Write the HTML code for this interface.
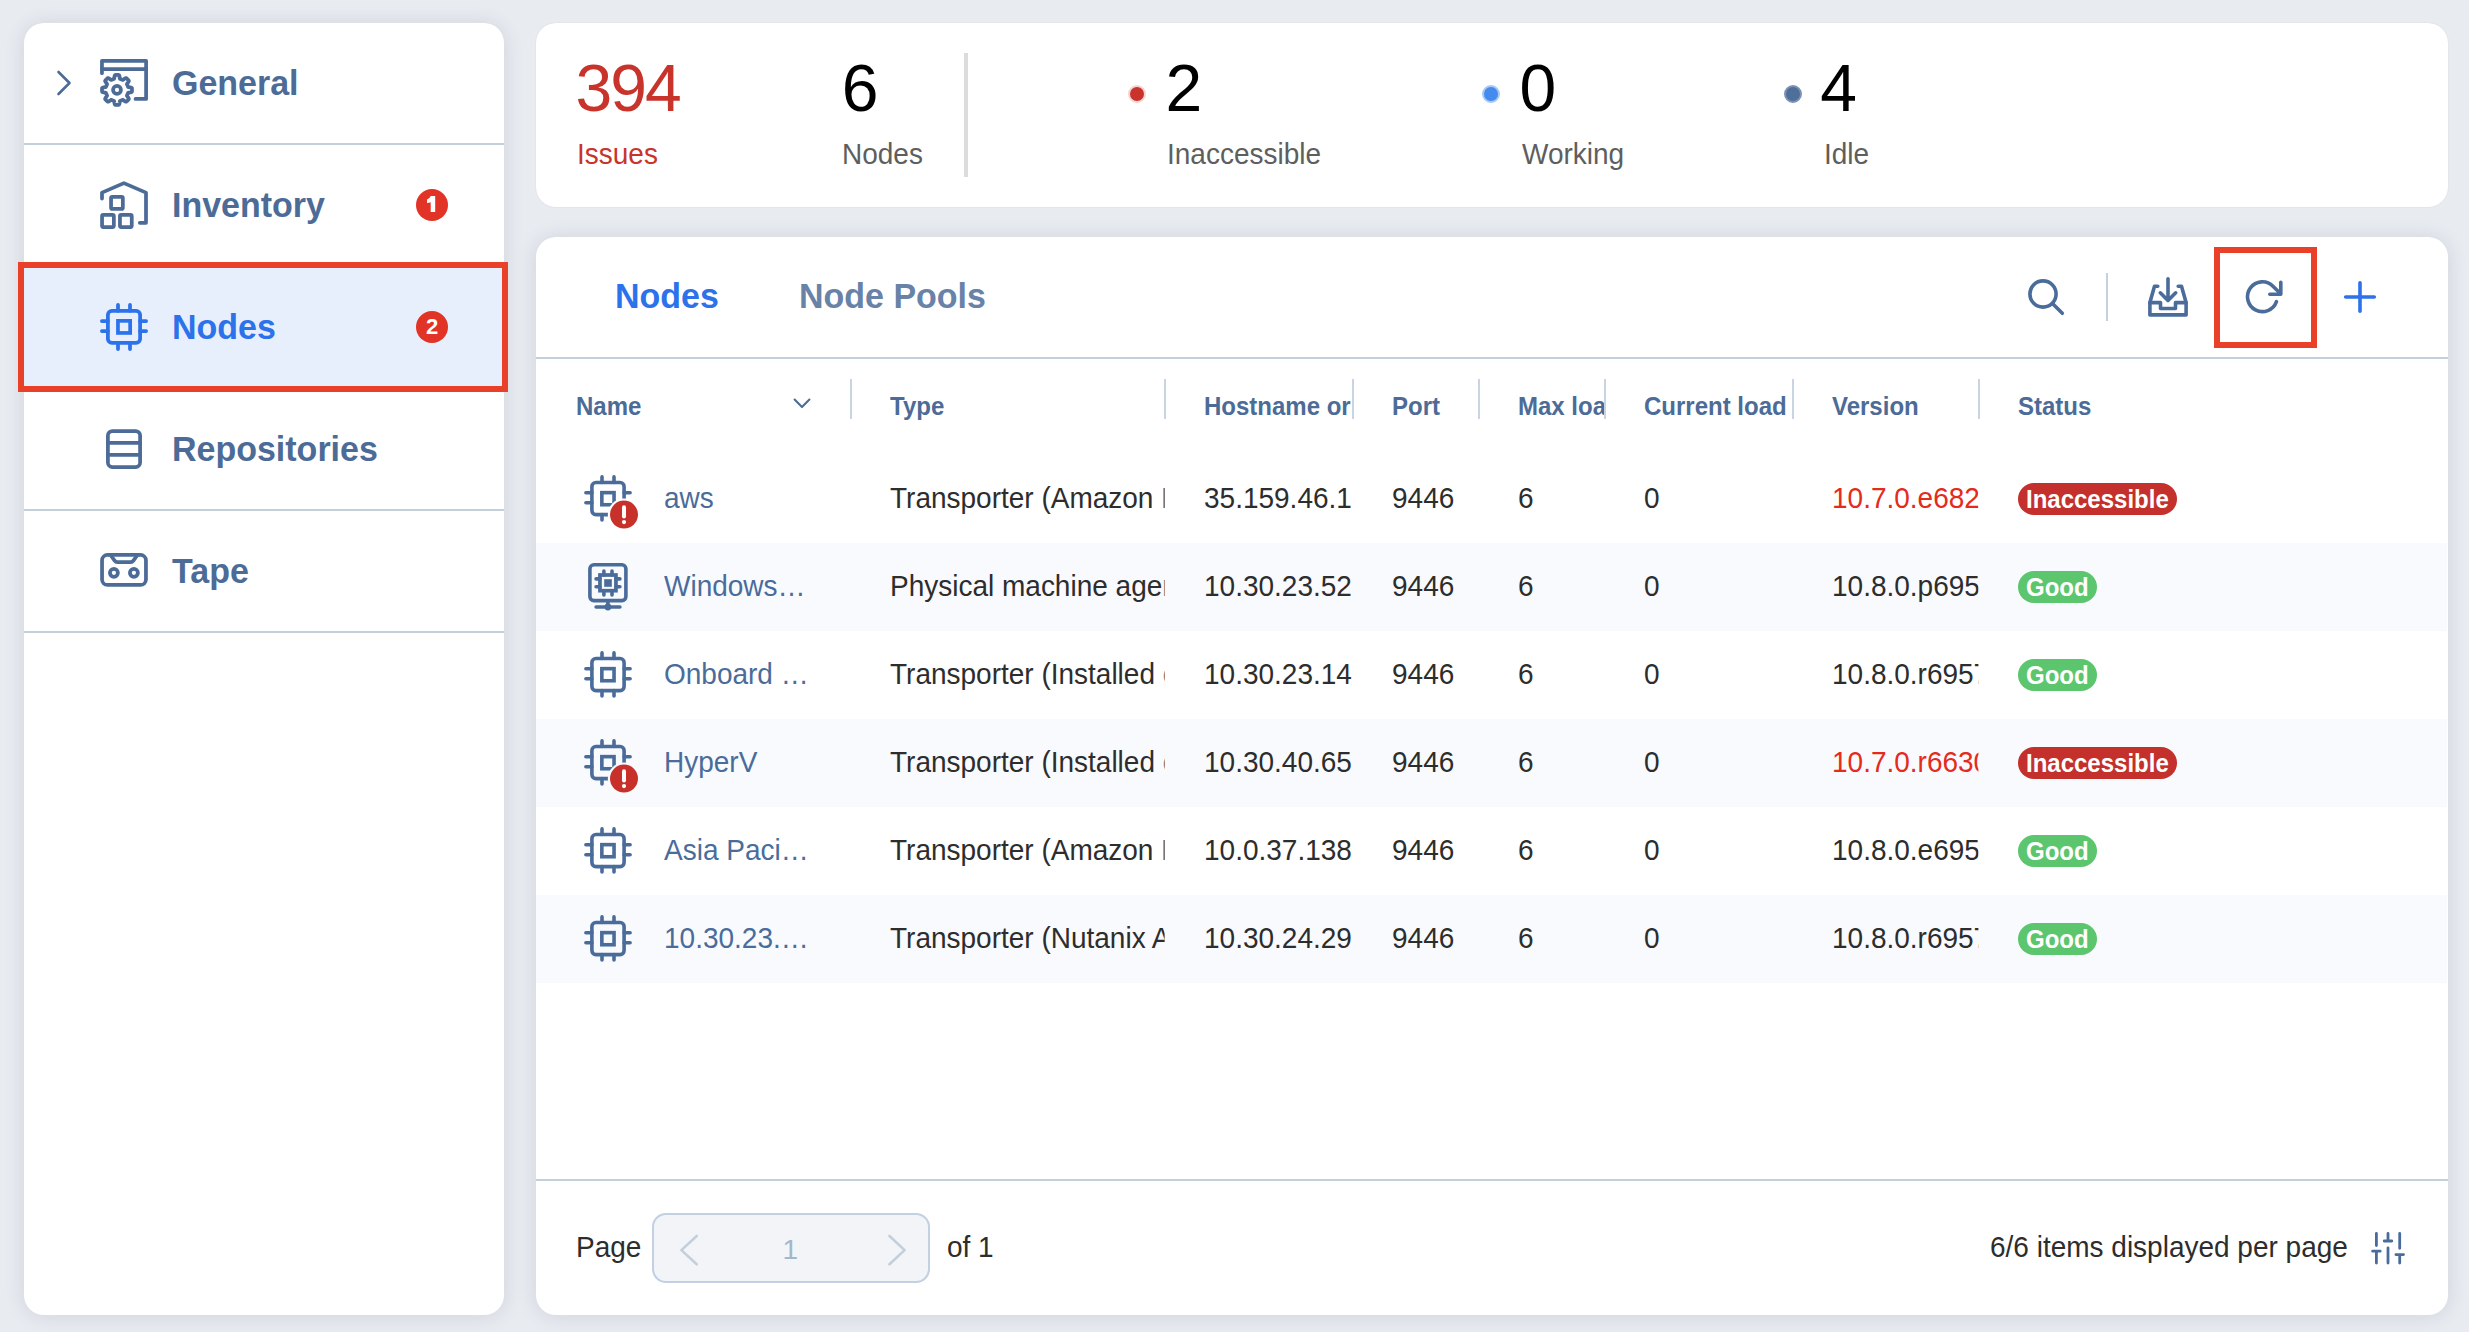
<!DOCTYPE html><html><head><meta charset="utf-8"><title>Nodes</title><style>
*{margin:0;padding:0;box-sizing:border-box}
html,body{width:2469px;height:1332px;overflow:hidden;background:#e8ebf0;font-family:"Liberation Sans",sans-serif}
.panel{position:absolute;background:#fff;border-radius:20px;box-shadow:0 1px 20px rgba(30,40,80,0.12)}
.panel.flat{box-shadow:0 0 1.5px rgba(30,40,80,0.12)}
.r{position:absolute}
.t{position:absolute;white-space:nowrap;transform-origin:0 0}
.ic{position:absolute;overflow:visible}
.badge{position:absolute;width:32px;height:32px;border-radius:50%;background:#e13427;color:#fff;font-weight:700;font-size:22px;line-height:32px;text-align:center}
.ell{position:absolute;white-space:nowrap;overflow:hidden;text-overflow:ellipsis;font-size:28px;transform-origin:0 0}
.clip{position:absolute;white-space:nowrap;overflow:hidden;font-size:28px;transform-origin:0 0}
.pill{position:absolute;height:32px;padding:0 8px;border-radius:16px;color:#fff;font-weight:700;font-size:25.08px;line-height:32px;white-space:nowrap}
.pill span{display:inline-block;transform:scaleX(0.9569);transform-origin:0 0}
</style></head><body><div class="panel" style="left:24px;top:23px;width:480px;height:1292px"></div><div class="panel flat" style="left:536px;top:23px;width:1912px;height:184px"></div><div class="panel" style="left:536px;top:237px;width:1912px;height:1078px"></div><div class="r" style="left:24px;top:143px;width:480px;height:2px;background:#c4cfdc"></div><div class="r" style="left:24px;top:265px;width:480px;height:2px;background:#c4cfdc"></div><div class="r" style="left:24px;top:387px;width:480px;height:2px;background:#c4cfdc"></div><div class="r" style="left:24px;top:509px;width:480px;height:2px;background:#c4cfdc"></div><div class="r" style="left:24px;top:631px;width:480px;height:2px;background:#c4cfdc"></div><div class="r" style="left:24px;top:267px;width:480px;height:120px;background:#e6effb"></div><svg class="ic" style="left:50px;top:65px" width="28" height="36" viewBox="50 65 28 36" ><path d="M58.5 72 L69.5 83 L58.5 94" fill="none" stroke="#4c6c97" stroke-width="2.6" stroke-linecap="round" stroke-linejoin="round"/></svg><svg class="ic" style="left:94px;top:52px" width="60" height="60" viewBox="94 52 60 60" ><path d="M101.95 73.2 V60.8 H146.1 V98.9 H135.55" fill="none" stroke="#4c6c97" stroke-width="3.75" stroke-linecap="round" stroke-linejoin="round"/><path d="M101.95 69.1 H146.1" fill="none" stroke="#4c6c97" stroke-width="3.75" stroke-linecap="round" stroke-linejoin="round"/><path d="M132.00 89.90 L132.00 90.03 L132.00 90.16 L131.99 90.29 L131.99 90.42 L131.99 90.55 L131.98 90.69 L131.97 90.82 L131.96 90.95 L131.95 91.08 L131.94 91.21 L131.93 91.34 L131.92 91.47 L131.90 91.60 L131.88 91.73 L131.80 91.85 L131.68 91.96 L131.51 92.07 L131.29 92.16 L131.03 92.25 L130.75 92.32 L130.44 92.39 L130.11 92.45 L129.78 92.50 L129.46 92.55 L129.15 92.59 L128.86 92.64 L128.60 92.69 L128.38 92.74 L128.21 92.80 L128.08 92.87 L128.00 92.95 L127.96 93.04 L127.93 93.14 L127.90 93.23 L127.87 93.33 L127.84 93.42 L127.81 93.52 L127.78 93.61 L127.75 93.71 L127.71 93.80 L127.68 93.89 L127.64 93.99 L127.61 94.08 L127.57 94.17 L127.53 94.26 L127.49 94.35 L127.45 94.45 L127.41 94.54 L127.37 94.63 L127.33 94.72 L127.29 94.81 L127.25 94.90 L127.20 94.99 L127.16 95.08 L127.11 95.16 L127.07 95.25 L127.02 95.34 L126.97 95.43 L126.93 95.52 L126.93 95.64 L126.98 95.78 L127.06 95.94 L127.17 96.13 L127.32 96.35 L127.49 96.58 L127.68 96.84 L127.88 97.10 L128.07 97.37 L128.26 97.64 L128.44 97.91 L128.58 98.16 L128.70 98.40 L128.79 98.62 L128.84 98.82 L128.84 98.99 L128.81 99.13 L128.74 99.24 L128.66 99.34 L128.57 99.44 L128.49 99.54 L128.41 99.64 L128.32 99.74 L128.23 99.84 L128.15 99.94 L128.06 100.03 L127.97 100.13 L127.88 100.23 L127.79 100.32 L127.70 100.41 L127.61 100.51 L127.51 100.60 L127.42 100.69 L127.33 100.78 L127.23 100.87 L127.13 100.96 L127.04 101.05 L126.94 101.13 L126.84 101.22 L126.74 101.31 L126.64 101.39 L126.54 101.47 L126.44 101.56 L126.34 101.64 L126.23 101.71 L126.09 101.74 L125.92 101.74 L125.72 101.69 L125.50 101.60 L125.26 101.48 L125.01 101.34 L124.74 101.16 L124.47 100.97 L124.20 100.78 L123.94 100.58 L123.68 100.39 L123.45 100.22 L123.23 100.07 L123.04 99.96 L122.88 99.88 L122.74 99.83 L122.62 99.83 L122.53 99.87 L122.44 99.92 L122.35 99.97 L122.26 100.01 L122.18 100.06 L122.09 100.10 L122.00 100.15 L121.91 100.19 L121.82 100.23 L121.73 100.27 L121.64 100.31 L121.55 100.35 L121.45 100.39 L121.36 100.43 L121.27 100.47 L121.18 100.51 L121.09 100.54 L120.99 100.58 L120.90 100.61 L120.81 100.65 L120.71 100.68 L120.62 100.71 L120.52 100.74 L120.43 100.77 L120.33 100.80 L120.24 100.83 L120.14 100.86 L120.05 100.90 L119.97 100.98 L119.90 101.11 L119.84 101.28 L119.79 101.50 L119.74 101.76 L119.69 102.05 L119.65 102.36 L119.60 102.68 L119.55 103.01 L119.49 103.34 L119.42 103.65 L119.35 103.93 L119.26 104.19 L119.17 104.41 L119.06 104.58 L118.95 104.70 L118.83 104.78 L118.70 104.80 L118.57 104.82 L118.44 104.83 L118.31 104.84 L118.18 104.85 L118.05 104.86 L117.92 104.87 L117.79 104.88 L117.65 104.89 L117.52 104.89 L117.39 104.89 L117.26 104.90 L117.13 104.90 L117.00 104.90 L116.87 104.90 L116.74 104.90 L116.61 104.89 L116.48 104.89 L116.35 104.89 L116.21 104.88 L116.08 104.87 L115.95 104.86 L115.82 104.85 L115.69 104.84 L115.56 104.83 L115.43 104.82 L115.30 104.80 L115.17 104.78 L115.05 104.70 L114.94 104.58 L114.83 104.41 L114.74 104.19 L114.65 103.93 L114.58 103.65 L114.51 103.34 L114.45 103.01 L114.40 102.68 L114.35 102.36 L114.31 102.05 L114.26 101.76 L114.21 101.50 L114.16 101.28 L114.10 101.11 L114.03 100.98 L113.95 100.90 L113.86 100.86 L113.76 100.83 L113.67 100.80 L113.57 100.77 L113.48 100.74 L113.38 100.71 L113.29 100.68 L113.19 100.65 L113.10 100.61 L113.01 100.58 L112.91 100.54 L112.82 100.51 L112.73 100.47 L112.64 100.43 L112.55 100.39 L112.45 100.35 L112.36 100.31 L112.27 100.27 L112.18 100.23 L112.09 100.19 L112.00 100.15 L111.91 100.10 L111.82 100.06 L111.74 100.01 L111.65 99.97 L111.56 99.92 L111.47 99.87 L111.38 99.83 L111.26 99.83 L111.12 99.88 L110.96 99.96 L110.77 100.07 L110.55 100.22 L110.32 100.39 L110.06 100.58 L109.80 100.78 L109.53 100.97 L109.26 101.16 L108.99 101.34 L108.74 101.48 L108.50 101.60 L108.28 101.69 L108.08 101.74 L107.91 101.74 L107.77 101.71 L107.66 101.64 L107.56 101.56 L107.46 101.47 L107.36 101.39 L107.26 101.31 L107.16 101.22 L107.06 101.13 L106.96 101.05 L106.87 100.96 L106.77 100.87 L106.67 100.78 L106.58 100.69 L106.49 100.60 L106.39 100.51 L106.30 100.41 L106.21 100.32 L106.12 100.23 L106.03 100.13 L105.94 100.03 L105.85 99.94 L105.77 99.84 L105.68 99.74 L105.59 99.64 L105.51 99.54 L105.43 99.44 L105.34 99.34 L105.26 99.24 L105.19 99.13 L105.16 98.99 L105.16 98.82 L105.21 98.62 L105.30 98.40 L105.42 98.16 L105.56 97.91 L105.74 97.64 L105.93 97.37 L106.12 97.10 L106.32 96.84 L106.51 96.58 L106.68 96.35 L106.83 96.13 L106.94 95.94 L107.02 95.78 L107.07 95.64 L107.07 95.52 L107.03 95.43 L106.98 95.34 L106.93 95.25 L106.89 95.16 L106.84 95.08 L106.80 94.99 L106.75 94.90 L106.71 94.81 L106.67 94.72 L106.63 94.63 L106.59 94.54 L106.55 94.45 L106.51 94.35 L106.47 94.26 L106.43 94.17 L106.39 94.08 L106.36 93.99 L106.32 93.89 L106.29 93.80 L106.25 93.71 L106.22 93.61 L106.19 93.52 L106.16 93.42 L106.13 93.33 L106.10 93.23 L106.07 93.14 L106.04 93.04 L106.00 92.95 L105.92 92.87 L105.79 92.80 L105.62 92.74 L105.40 92.69 L105.14 92.64 L104.85 92.59 L104.54 92.55 L104.22 92.50 L103.89 92.45 L103.56 92.39 L103.25 92.32 L102.97 92.25 L102.71 92.16 L102.49 92.07 L102.32 91.96 L102.20 91.85 L102.12 91.73 L102.10 91.60 L102.08 91.47 L102.07 91.34 L102.06 91.21 L102.05 91.08 L102.04 90.95 L102.03 90.82 L102.02 90.69 L102.01 90.55 L102.01 90.42 L102.01 90.29 L102.00 90.16 L102.00 90.03 L102.00 89.90 L102.00 89.77 L102.00 89.64 L102.01 89.51 L102.01 89.38 L102.01 89.25 L102.02 89.11 L102.03 88.98 L102.04 88.85 L102.05 88.72 L102.06 88.59 L102.07 88.46 L102.08 88.33 L102.10 88.20 L102.12 88.07 L102.20 87.95 L102.32 87.84 L102.49 87.73 L102.71 87.64 L102.97 87.55 L103.25 87.48 L103.56 87.41 L103.89 87.35 L104.22 87.30 L104.54 87.25 L104.85 87.21 L105.14 87.16 L105.40 87.11 L105.62 87.06 L105.79 87.00 L105.92 86.93 L106.00 86.85 L106.04 86.76 L106.07 86.66 L106.10 86.57 L106.13 86.47 L106.16 86.38 L106.19 86.28 L106.22 86.19 L106.25 86.09 L106.29 86.00 L106.32 85.91 L106.36 85.81 L106.39 85.72 L106.43 85.63 L106.47 85.54 L106.51 85.45 L106.55 85.35 L106.59 85.26 L106.63 85.17 L106.67 85.08 L106.71 84.99 L106.75 84.90 L106.80 84.81 L106.84 84.72 L106.89 84.64 L106.93 84.55 L106.98 84.46 L107.03 84.37 L107.07 84.28 L107.07 84.16 L107.02 84.02 L106.94 83.86 L106.83 83.67 L106.68 83.45 L106.51 83.22 L106.32 82.96 L106.12 82.70 L105.93 82.43 L105.74 82.16 L105.56 81.89 L105.42 81.64 L105.30 81.40 L105.21 81.18 L105.16 80.98 L105.16 80.81 L105.19 80.67 L105.26 80.56 L105.34 80.46 L105.43 80.36 L105.51 80.26 L105.59 80.16 L105.68 80.06 L105.77 79.96 L105.85 79.86 L105.94 79.77 L106.03 79.67 L106.12 79.57 L106.21 79.48 L106.30 79.39 L106.39 79.29 L106.49 79.20 L106.58 79.11 L106.67 79.02 L106.77 78.93 L106.87 78.84 L106.96 78.75 L107.06 78.67 L107.16 78.58 L107.26 78.49 L107.36 78.41 L107.46 78.33 L107.56 78.24 L107.66 78.16 L107.77 78.09 L107.91 78.06 L108.08 78.06 L108.28 78.11 L108.50 78.20 L108.74 78.32 L108.99 78.46 L109.26 78.64 L109.53 78.83 L109.80 79.02 L110.06 79.22 L110.32 79.41 L110.55 79.58 L110.77 79.73 L110.96 79.84 L111.12 79.92 L111.26 79.97 L111.38 79.97 L111.47 79.93 L111.56 79.88 L111.65 79.83 L111.74 79.79 L111.82 79.74 L111.91 79.70 L112.00 79.65 L112.09 79.61 L112.18 79.57 L112.27 79.53 L112.36 79.49 L112.45 79.45 L112.55 79.41 L112.64 79.37 L112.73 79.33 L112.82 79.29 L112.91 79.26 L113.01 79.22 L113.10 79.19 L113.19 79.15 L113.29 79.12 L113.38 79.09 L113.48 79.06 L113.57 79.03 L113.67 79.00 L113.76 78.97 L113.86 78.94 L113.95 78.90 L114.03 78.82 L114.10 78.69 L114.16 78.52 L114.21 78.30 L114.26 78.04 L114.31 77.75 L114.35 77.44 L114.40 77.12 L114.45 76.79 L114.51 76.46 L114.58 76.15 L114.65 75.87 L114.74 75.61 L114.83 75.39 L114.94 75.22 L115.05 75.10 L115.17 75.02 L115.30 75.00 L115.43 74.98 L115.56 74.97 L115.69 74.96 L115.82 74.95 L115.95 74.94 L116.08 74.93 L116.21 74.92 L116.35 74.91 L116.48 74.91 L116.61 74.91 L116.74 74.90 L116.87 74.90 L117.00 74.90 L117.13 74.90 L117.26 74.90 L117.39 74.91 L117.52 74.91 L117.65 74.91 L117.79 74.92 L117.92 74.93 L118.05 74.94 L118.18 74.95 L118.31 74.96 L118.44 74.97 L118.57 74.98 L118.70 75.00 L118.83 75.02 L118.95 75.10 L119.06 75.22 L119.17 75.39 L119.26 75.61 L119.35 75.87 L119.42 76.15 L119.49 76.46 L119.55 76.79 L119.60 77.12 L119.65 77.44 L119.69 77.75 L119.74 78.04 L119.79 78.30 L119.84 78.52 L119.90 78.69 L119.97 78.82 L120.05 78.90 L120.14 78.94 L120.24 78.97 L120.33 79.00 L120.43 79.03 L120.52 79.06 L120.62 79.09 L120.71 79.12 L120.81 79.15 L120.90 79.19 L120.99 79.22 L121.09 79.26 L121.18 79.29 L121.27 79.33 L121.36 79.37 L121.45 79.41 L121.55 79.45 L121.64 79.49 L121.73 79.53 L121.82 79.57 L121.91 79.61 L122.00 79.65 L122.09 79.70 L122.18 79.74 L122.26 79.79 L122.35 79.83 L122.44 79.88 L122.53 79.93 L122.62 79.97 L122.74 79.97 L122.88 79.92 L123.04 79.84 L123.23 79.73 L123.45 79.58 L123.68 79.41 L123.94 79.22 L124.20 79.02 L124.47 78.83 L124.74 78.64 L125.01 78.46 L125.26 78.32 L125.50 78.20 L125.72 78.11 L125.92 78.06 L126.09 78.06 L126.23 78.09 L126.34 78.16 L126.44 78.24 L126.54 78.33 L126.64 78.41 L126.74 78.49 L126.84 78.58 L126.94 78.67 L127.04 78.75 L127.13 78.84 L127.23 78.93 L127.33 79.02 L127.42 79.11 L127.51 79.20 L127.61 79.29 L127.70 79.39 L127.79 79.48 L127.88 79.57 L127.97 79.67 L128.06 79.77 L128.15 79.86 L128.23 79.96 L128.32 80.06 L128.41 80.16 L128.49 80.26 L128.57 80.36 L128.66 80.46 L128.74 80.56 L128.81 80.67 L128.84 80.81 L128.84 80.98 L128.79 81.18 L128.70 81.40 L128.58 81.64 L128.44 81.89 L128.26 82.16 L128.07 82.43 L127.88 82.70 L127.68 82.96 L127.49 83.22 L127.32 83.45 L127.17 83.67 L127.06 83.86 L126.98 84.02 L126.93 84.16 L126.93 84.28 L126.97 84.37 L127.02 84.46 L127.07 84.55 L127.11 84.64 L127.16 84.72 L127.20 84.81 L127.25 84.90 L127.29 84.99 L127.33 85.08 L127.37 85.17 L127.41 85.26 L127.45 85.35 L127.49 85.45 L127.53 85.54 L127.57 85.63 L127.61 85.72 L127.64 85.81 L127.68 85.91 L127.71 86.00 L127.75 86.09 L127.78 86.19 L127.81 86.28 L127.84 86.38 L127.87 86.47 L127.90 86.57 L127.93 86.66 L127.96 86.76 L128.00 86.85 L128.08 86.93 L128.21 87.00 L128.38 87.06 L128.60 87.11 L128.86 87.16 L129.15 87.21 L129.46 87.25 L129.78 87.30 L130.11 87.35 L130.44 87.41 L130.75 87.48 L131.03 87.55 L131.29 87.64 L131.51 87.73 L131.68 87.84 L131.80 87.95 L131.88 88.07 L131.90 88.20 L131.92 88.33 L131.93 88.46 L131.94 88.59 L131.95 88.72 L131.96 88.85 L131.97 88.98 L131.98 89.11 L131.99 89.25 L131.99 89.38 L131.99 89.51 L132.00 89.64 L132.00 89.77 L132.00 89.90 L132.00 90.03Z" fill="none" stroke="#4c6c97" stroke-width="3.75" stroke-linecap="round" stroke-linejoin="round"/><circle cx="117" cy="89.9" r="3.96" fill="none" stroke="#4c6c97" stroke-width="3.75" stroke-linecap="round" stroke-linejoin="round"/></svg><div class="t" style="left:172.2px;top:66.00px;font-size:35.53px;line-height:35.53px;color:#4c6c97;font-weight:700;transform:scaleX(0.9569);">General</div><svg class="ic" style="left:94px;top:175px" width="60" height="60" viewBox="94 175 60 60" ><path d="M102 198.6 V192.6 L123.9 183.1 L146 192.6 V222.8 H139.8" fill="none" stroke="#4c6c97" stroke-width="3.75" stroke-linecap="round" stroke-linejoin="round"/><rect x="111.05" y="196.85" width="11.8" height="12" rx="1.2" fill="none" stroke="#4c6c97" stroke-width="3.75" stroke-linecap="round" stroke-linejoin="round"/><rect x="102.05" y="214.95" width="11.8" height="12.1" rx="1.2" fill="none" stroke="#4c6c97" stroke-width="3.75" stroke-linecap="round" stroke-linejoin="round"/><rect x="119.95" y="214.95" width="11.8" height="12.1" rx="1.2" fill="none" stroke="#4c6c97" stroke-width="3.75" stroke-linecap="round" stroke-linejoin="round"/></svg><div class="t" style="left:172px;top:188.00px;font-size:35.53px;line-height:35.53px;color:#4c6c97;font-weight:700;transform:scaleX(0.9569);">Inventory</div><div class="badge" style="left:416px;top:189px"></div><svg class="ic" style="left:416px;top:189px" width="32" height="32" viewBox="416 189 32 32" ><path d="M430.7 196 H435.2 V212 H430.7 V202.2 Q429.2 202.9 427 203.1 V199.5 Q429.6 198.9 430.7 196 Z" fill="#fff"/></svg><svg class="ic" style="left:94px;top:297px" width="60" height="60" viewBox="94 297 60 60" ><rect x="107.9" y="310.8" width="32.2" height="32.1" rx="4" fill="none" stroke="#2c72ea" stroke-width="3.75" stroke-linecap="round" stroke-linejoin="round"/><rect x="117.95" y="320.85" width="12.2" height="12.1" fill="none" stroke="#2c72ea" stroke-width="3.7"/><path d="M118 304.9 V310.8 M130 304.9 V310.8 M118 342.9 V349 M130 342.9 V349 M101.9 321 H107.9 M101.9 331 H107.9 M140.1 321 H146.1 M140.1 331 H146.1" fill="none" stroke="#2c72ea" stroke-width="3.75" stroke-linecap="round" stroke-linejoin="round"/></svg><div class="t" style="left:172.3px;top:310.00px;font-size:35.53px;line-height:35.53px;color:#2c72ea;font-weight:700;transform:scaleX(0.9569);">Nodes</div><div class="badge" style="left:416px;top:311px">2</div><svg class="ic" style="left:94px;top:419px" width="60" height="60" viewBox="94 419 60 60" ><rect x="107.9" y="431" width="32.2" height="36" rx="4.5" fill="none" stroke="#4c6c97" stroke-width="3.75" stroke-linecap="round" stroke-linejoin="round"/><path d="M107.9 442.9 H140.1 M107.9 454.9 H140.1" fill="none" stroke="#4c6c97" stroke-width="3.75" stroke-linecap="round" stroke-linejoin="round"/></svg><div class="t" style="left:172px;top:432.00px;font-size:35.53px;line-height:35.53px;color:#4c6c97;font-weight:700;transform:scaleX(0.9569);">Repositories</div><svg class="ic" style="left:94px;top:541px" width="60" height="60" viewBox="94 541 60 60" ><rect x="102.05" y="554.95" width="43.9" height="30" rx="5.5" fill="none" stroke="#4c6c97" stroke-width="3.75" stroke-linecap="round" stroke-linejoin="round"/><path d="M110.5 555 L114.6 560.6 Q115.6 562 117.4 562 H130.6 Q132.4 562 133.4 560.6 L137.5 555" fill="none" stroke="#4c6c97" stroke-width="3.75" stroke-linecap="round" stroke-linejoin="round"/><circle cx="113.9" cy="572.8" r="4" fill="none" stroke="#4c6c97" stroke-width="3.75" stroke-linecap="round" stroke-linejoin="round"/><circle cx="133.9" cy="572.8" r="4" fill="none" stroke="#4c6c97" stroke-width="3.75" stroke-linecap="round" stroke-linejoin="round"/></svg><div class="t" style="left:172px;top:554.00px;font-size:35.53px;line-height:35.53px;color:#4c6c97;font-weight:700;transform:scaleX(0.9569);">Tape</div><div class="r" style="left:18px;top:262px;width:490px;height:130px;border:6px solid #e9402a"></div><div class="t" style="left:575.5px;top:55.00px;font-size:66.00px;line-height:66.00px;color:#c8342b;font-weight:400;transform:scaleX(1.0000);letter-spacing:-2px;">394</div><div class="t" style="left:576.5px;top:140.00px;font-size:29.26px;line-height:29.26px;color:#c8342b;font-weight:400;transform:scaleX(0.9569);">Issues</div><div class="t" style="left:841.8px;top:55.00px;font-size:66.00px;line-height:66.00px;color:#000;font-weight:400;transform:scaleX(1.0000);">6</div><div class="t" style="left:842px;top:140.00px;font-size:29.26px;line-height:29.26px;color:#5e5e5e;font-weight:400;transform:scaleX(0.9569);">Nodes</div><div class="r" style="left:964px;top:53px;width:4px;height:124px;background:#dcdcdc"></div><div class="r" style="left:1128px;top:85px;width:18px;height:18px;border-radius:50%;background:#c8342b;border:2px solid #f6d3d1"></div><div class="t" style="left:1165.5px;top:55.00px;font-size:66.00px;line-height:66.00px;color:#000;font-weight:400;transform:scaleX(1.0000);">2</div><div class="t" style="left:1167px;top:140.00px;font-size:29.26px;line-height:29.26px;color:#5e5e5e;font-weight:400;transform:scaleX(0.9569);">Inaccessible</div><div class="r" style="left:1482px;top:85px;width:18px;height:18px;border-radius:50%;background:#448bed;border:2px solid #a6c8f6"></div><div class="t" style="left:1519.5px;top:55.00px;font-size:66.00px;line-height:66.00px;color:#000;font-weight:400;transform:scaleX(1.0000);">0</div><div class="t" style="left:1521.5px;top:140.00px;font-size:29.26px;line-height:29.26px;color:#5e5e5e;font-weight:400;transform:scaleX(0.9569);">Working</div><div class="r" style="left:1784px;top:85px;width:18px;height:18px;border-radius:50%;background:#4f6e99;border:2px solid #7d93b3"></div><div class="t" style="left:1820.3px;top:55.00px;font-size:66.00px;line-height:66.00px;color:#000;font-weight:400;transform:scaleX(1.0000);">4</div><div class="t" style="left:1824.4px;top:140.00px;font-size:29.26px;line-height:29.26px;color:#5e5e5e;font-weight:400;transform:scaleX(0.9569);">Idle</div><div class="t" style="left:615.3px;top:279.00px;font-size:35.53px;line-height:35.53px;color:#2c72ea;font-weight:700;transform:scaleX(0.9569);">Nodes</div><div class="t" style="left:799.2px;top:279.00px;font-size:35.53px;line-height:35.53px;color:#6982a7;font-weight:700;transform:scaleX(0.9569);">Node Pools</div><div class="r" style="left:536px;top:357px;width:1912px;height:2px;background:#c4cfdc"></div><svg class="ic" style="left:2020px;top:270px" width="50" height="50" viewBox="2020 270 50 50" ><circle cx="2043" cy="294" r="13.1" fill="none" stroke="#4a6c9b" stroke-width="3.6" stroke-linecap="round" stroke-linejoin="round"/><path d="M2053 304 L2062.3 313.3" fill="none" stroke="#4a6c9b" stroke-width="3.6" stroke-linecap="round" stroke-linejoin="round"/></svg><div class="r" style="left:2106px;top:273px;width:2px;height:48px;background:#c5d1de"></div><svg class="ic" style="left:2140px;top:270px" width="56" height="56" viewBox="2140 270 56 56" ><path d="M2168 278.8 V300.5 M2160.3 292.8 L2168 300.5 L2175.7 292.8" fill="none" stroke="#4a6c9b" stroke-width="3.6" stroke-linecap="round" stroke-linejoin="round"/><path d="M2157.8 286.3 H2154.5 L2149.9 302.6 V314.9 H2186.1 V302.6 L2181.5 286.3 H2178.2" fill="none" stroke="#4a6c9b" stroke-width="3.6" stroke-linecap="round" stroke-linejoin="round"/><path d="M2149.9 302.6 H2160.5 V308.5 H2175.5 V302.6 H2186.1" fill="none" stroke="#4a6c9b" stroke-width="3.6" stroke-linecap="round" stroke-linejoin="round"/></svg><svg class="ic" style="left:2238px;top:272px" width="52" height="52" viewBox="2238 272 52 52" ><path d="M2276.46 301.65 A14.9 14.9 0 1 1 2272.94 286.16 L2279.4 292.6" fill="none" stroke="#4a6c9b" stroke-width="3.6" stroke-linecap="round" stroke-linejoin="round"/><path d="M2280.8 282.3 V294.3 H2269.8" fill="none" stroke="#4a6c9b" stroke-width="3.6" stroke-linecap="round" stroke-linejoin="round"/></svg><svg class="ic" style="left:2336px;top:274px" width="48" height="48" viewBox="2336 274 48 48" ><path d="M2360 282.8 V311.2 M2345.7 297 H2374.3" fill="none" stroke="#2c72ea" stroke-width="3.6" stroke-linecap="round"/></svg><div class="r" style="left:2214px;top:247px;width:103px;height:101px;border:6px solid #e9402a"></div><div class="t" style="left:576px;top:394.00px;font-size:25.08px;line-height:25.08px;color:#4c6c97;font-weight:700;transform:scaleX(0.9569);">Name</div><svg class="ic" style="left:788px;top:393px" width="28" height="20" viewBox="788 393 28 20" ><path d="M794.6 399.6 L802 407 L809.4 399.6" fill="none" stroke="#4c6c97" stroke-width="2.1" stroke-linecap="round" stroke-linejoin="round"/></svg><div class="r" style="left:850px;top:379px;width:2px;height:40px;background:#c9d4e2"></div><div class="r" style="left:1164px;top:379px;width:2px;height:40px;background:#c9d4e2"></div><div class="r" style="left:1352px;top:379px;width:2px;height:40px;background:#c9d4e2"></div><div class="r" style="left:1478px;top:379px;width:2px;height:40px;background:#c9d4e2"></div><div class="r" style="left:1604px;top:379px;width:2px;height:40px;background:#c9d4e2"></div><div class="r" style="left:1792px;top:379px;width:2px;height:40px;background:#c9d4e2"></div><div class="r" style="left:1978px;top:379px;width:2px;height:40px;background:#c9d4e2"></div><div class="clip" style="left:889.5px;top:387.77px;width:286.9px;height:34px;transform:scaleX(0.9569)"><div class="t" style="left:0;top:6px;font-size:25.08px;line-height:25.08px;color:#4c6c97;font-weight:700">Type</div></div><div class="clip" style="left:1203.5px;top:387.77px;width:155.2px;height:34px;transform:scaleX(0.9569)"><div class="t" style="left:0;top:6px;font-size:25.08px;line-height:25.08px;color:#4c6c97;font-weight:700">Hostname or IP</div></div><div class="clip" style="left:1391.5px;top:387.77px;width:90.4px;height:34px;transform:scaleX(0.9569)"><div class="t" style="left:0;top:6px;font-size:25.08px;line-height:25.08px;color:#4c6c97;font-weight:700">Port</div></div><div class="clip" style="left:1517.5px;top:387.77px;width:90.4px;height:34px;transform:scaleX(0.9569)"><div class="t" style="left:0;top:6px;font-size:25.08px;line-height:25.08px;color:#4c6c97;font-weight:700">Max load</div></div><div class="clip" style="left:1643.5px;top:387.77px;width:155.2px;height:34px;transform:scaleX(0.9569)"><div class="t" style="left:0;top:6px;font-size:25.08px;line-height:25.08px;color:#4c6c97;font-weight:700">Current load</div></div><div class="clip" style="left:1831.5px;top:387.77px;width:153.1px;height:34px;transform:scaleX(0.9569)"><div class="t" style="left:0;top:6px;font-size:25.08px;line-height:25.08px;color:#4c6c97;font-weight:700">Version</div></div><div class="clip" style="left:2017.5px;top:387.77px;width:313.5px;height:34px;transform:scaleX(0.9569)"><div class="t" style="left:0;top:6px;font-size:25.08px;line-height:25.08px;color:#4c6c97;font-weight:700">Status</div></div><svg class="ic" style="left:578px;top:465px" width="70" height="70" viewBox="578 465 70 70" ><rect x="591.9" y="482.50" width="32.2" height="32.1" rx="4" fill="none" stroke="#4a6c9b" stroke-width="3.6" stroke-linecap="round" stroke-linejoin="round"/><rect x="601.85" y="492.65" width="12.2" height="12.1" fill="none" stroke="#4a6c9b" stroke-width="3.6"/><path d="M602 476.90 V482.50 M614 476.90 V482.50 M602 514.60 V520.00 M614 514.60 V520.00 M585.9 492.80 H591.9 M585.9 502.80 H591.9 M624.1 492.80 H630.1 M624.1 502.80 H630.1" fill="none" stroke="#4a6c9b" stroke-width="3.6" stroke-linecap="round" stroke-linejoin="round"/><circle cx="624" cy="514.60" r="16.2" fill="#ffffff"/><circle cx="624" cy="514.60" r="14" fill="#c8302a"/><path d="M624 507.30 V516.60" stroke="#fff" stroke-width="4" stroke-linecap="round"/><circle cx="624" cy="522.10" r="2.1" fill="#fff"/></svg><div class="ell" style="left:663.6px;top:455px;width:153.6px;height:88px;line-height:86px;font-size:29.26px;transform:scaleX(0.9569);color:#4a6c9b">aws</div><div class="clip" style="left:889.5px;top:455px;width:286.9px;height:88px;line-height:86px;font-size:29.26px;transform:scaleX(0.9569);color:#2d2d2d">Transporter (Amazon EC2)</div><div class="clip" style="left:1203.5px;top:455px;width:155.2px;height:88px;line-height:86px;font-size:29.26px;transform:scaleX(0.9569);color:#2d2d2d">35.159.46.1</div><div class="clip" style="left:1391.5px;top:455px;width:90.4px;height:88px;line-height:86px;font-size:29.26px;transform:scaleX(0.9569);color:#2d2d2d">9446</div><div class="clip" style="left:1517.5px;top:455px;width:90.4px;height:88px;line-height:86px;font-size:29.26px;transform:scaleX(0.9569);color:#2d2d2d">6</div><div class="clip" style="left:1643.5px;top:455px;width:155.2px;height:88px;line-height:86px;font-size:29.26px;transform:scaleX(0.9569);color:#2d2d2d">0</div><div class="clip" style="left:1831.5px;top:455px;width:153.1px;height:88px;line-height:86px;font-size:29.26px;transform:scaleX(0.9569);color:#e42b1c">10.7.0.e682</div><div class="pill" style="left:2018px;top:483px;width:159px;background:#c4302b"><span>Inaccessible</span></div><div class="r" style="left:536px;top:543px;width:1911px;height:88px;background:#f9fafe"></div><svg class="ic" style="left:578px;top:553px" width="70" height="70" viewBox="578 553 70 70" ><rect x="589.9" y="564.80" width="36" height="35.8" rx="4" fill="none" stroke="#4a6c9b" stroke-width="3.6" stroke-linecap="round" stroke-linejoin="round"/><rect x="599.95" y="575.00" width="16" height="15.7" fill="none" stroke="#4a6c9b" stroke-width="3.7"/><rect x="604.2" y="579.20" width="7.6" height="7.6" fill="#4a6c9b"/><path d="M603.9 571.10 V575.00 M612 571.10 V575.00 M603.9 590.70 V594.90 M612 590.70 V594.90 M596.1 578.90 H599.9 M596.1 586.80 H599.9 M616 578.90 H619.9 M616 586.80 H619.9" fill="none" stroke="#4a6c9b" stroke-width="3.6" stroke-linecap="round" stroke-linejoin="round"/><path d="M607.9 602.00 V607.00 M596.1 607.00 H619.9" fill="none" stroke="#4a6c9b" stroke-width="3.6" stroke-linecap="round" stroke-linejoin="round"/><circle cx="607.9" cy="607.00" r="3.4" fill="#4a6c9b"/></svg><div class="ell" style="left:663.6px;top:543px;width:153.6px;height:88px;line-height:86px;font-size:29.26px;transform:scaleX(0.9569);color:#4a6c9b">Windows machine</div><div class="clip" style="left:889.5px;top:543px;width:286.9px;height:88px;line-height:86px;font-size:29.26px;transform:scaleX(0.9569);color:#2d2d2d">Physical machine agent</div><div class="clip" style="left:1203.5px;top:543px;width:155.2px;height:88px;line-height:86px;font-size:29.26px;transform:scaleX(0.9569);color:#2d2d2d">10.30.23.52</div><div class="clip" style="left:1391.5px;top:543px;width:90.4px;height:88px;line-height:86px;font-size:29.26px;transform:scaleX(0.9569);color:#2d2d2d">9446</div><div class="clip" style="left:1517.5px;top:543px;width:90.4px;height:88px;line-height:86px;font-size:29.26px;transform:scaleX(0.9569);color:#2d2d2d">6</div><div class="clip" style="left:1643.5px;top:543px;width:155.2px;height:88px;line-height:86px;font-size:29.26px;transform:scaleX(0.9569);color:#2d2d2d">0</div><div class="clip" style="left:1831.5px;top:543px;width:153.1px;height:88px;line-height:86px;font-size:29.26px;transform:scaleX(0.9569);color:#2d2d2d">10.8.0.p6951</div><div class="pill" style="left:2018px;top:571px;width:79px;background:#5cc66e"><span>Good</span></div><svg class="ic" style="left:578px;top:641px" width="70" height="70" viewBox="578 641 70 70" ><rect x="591.9" y="658.50" width="32.2" height="32.1" rx="4" fill="none" stroke="#4a6c9b" stroke-width="3.6" stroke-linecap="round" stroke-linejoin="round"/><rect x="601.85" y="668.65" width="12.2" height="12.1" fill="none" stroke="#4a6c9b" stroke-width="3.6"/><path d="M602 652.90 V658.50 M614 652.90 V658.50 M602 690.60 V696.00 M614 690.60 V696.00 M585.9 668.80 H591.9 M585.9 678.80 H591.9 M624.1 668.80 H630.1 M624.1 678.80 H630.1" fill="none" stroke="#4a6c9b" stroke-width="3.6" stroke-linecap="round" stroke-linejoin="round"/></svg><div class="ell" style="left:663.6px;top:631px;width:153.6px;height:88px;line-height:86px;font-size:29.26px;transform:scaleX(0.9569);color:#4a6c9b">Onboard transporter</div><div class="clip" style="left:889.5px;top:631px;width:286.9px;height:88px;line-height:86px;font-size:29.26px;transform:scaleX(0.9569);color:#2d2d2d">Transporter (Installed on Linux)</div><div class="clip" style="left:1203.5px;top:631px;width:155.2px;height:88px;line-height:86px;font-size:29.26px;transform:scaleX(0.9569);color:#2d2d2d">10.30.23.14</div><div class="clip" style="left:1391.5px;top:631px;width:90.4px;height:88px;line-height:86px;font-size:29.26px;transform:scaleX(0.9569);color:#2d2d2d">9446</div><div class="clip" style="left:1517.5px;top:631px;width:90.4px;height:88px;line-height:86px;font-size:29.26px;transform:scaleX(0.9569);color:#2d2d2d">6</div><div class="clip" style="left:1643.5px;top:631px;width:155.2px;height:88px;line-height:86px;font-size:29.26px;transform:scaleX(0.9569);color:#2d2d2d">0</div><div class="clip" style="left:1831.5px;top:631px;width:153.1px;height:88px;line-height:86px;font-size:29.26px;transform:scaleX(0.9569);color:#2d2d2d">10.8.0.r6957</div><div class="pill" style="left:2018px;top:659px;width:79px;background:#5cc66e"><span>Good</span></div><div class="r" style="left:536px;top:719px;width:1911px;height:88px;background:#f9fafe"></div><svg class="ic" style="left:578px;top:729px" width="70" height="70" viewBox="578 729 70 70" ><rect x="591.9" y="746.50" width="32.2" height="32.1" rx="4" fill="none" stroke="#4a6c9b" stroke-width="3.6" stroke-linecap="round" stroke-linejoin="round"/><rect x="601.85" y="756.65" width="12.2" height="12.1" fill="none" stroke="#4a6c9b" stroke-width="3.6"/><path d="M602 740.90 V746.50 M614 740.90 V746.50 M602 778.60 V784.00 M614 778.60 V784.00 M585.9 756.80 H591.9 M585.9 766.80 H591.9 M624.1 756.80 H630.1 M624.1 766.80 H630.1" fill="none" stroke="#4a6c9b" stroke-width="3.6" stroke-linecap="round" stroke-linejoin="round"/><circle cx="624" cy="778.60" r="16.2" fill="#f9fafe"/><circle cx="624" cy="778.60" r="14" fill="#c8302a"/><path d="M624 771.30 V780.60" stroke="#fff" stroke-width="4" stroke-linecap="round"/><circle cx="624" cy="786.10" r="2.1" fill="#fff"/></svg><div class="ell" style="left:663.6px;top:719px;width:153.6px;height:88px;line-height:86px;font-size:29.26px;transform:scaleX(0.9569);color:#4a6c9b">HyperV</div><div class="clip" style="left:889.5px;top:719px;width:286.9px;height:88px;line-height:86px;font-size:29.26px;transform:scaleX(0.9569);color:#2d2d2d">Transporter (Installed on HyperV)</div><div class="clip" style="left:1203.5px;top:719px;width:155.2px;height:88px;line-height:86px;font-size:29.26px;transform:scaleX(0.9569);color:#2d2d2d">10.30.40.65</div><div class="clip" style="left:1391.5px;top:719px;width:90.4px;height:88px;line-height:86px;font-size:29.26px;transform:scaleX(0.9569);color:#2d2d2d">9446</div><div class="clip" style="left:1517.5px;top:719px;width:90.4px;height:88px;line-height:86px;font-size:29.26px;transform:scaleX(0.9569);color:#2d2d2d">6</div><div class="clip" style="left:1643.5px;top:719px;width:155.2px;height:88px;line-height:86px;font-size:29.26px;transform:scaleX(0.9569);color:#2d2d2d">0</div><div class="clip" style="left:1831.5px;top:719px;width:153.1px;height:88px;line-height:86px;font-size:29.26px;transform:scaleX(0.9569);color:#e42b1c">10.7.0.r6630</div><div class="pill" style="left:2018px;top:747px;width:159px;background:#c4302b"><span>Inaccessible</span></div><svg class="ic" style="left:578px;top:817px" width="70" height="70" viewBox="578 817 70 70" ><rect x="591.9" y="834.50" width="32.2" height="32.1" rx="4" fill="none" stroke="#4a6c9b" stroke-width="3.6" stroke-linecap="round" stroke-linejoin="round"/><rect x="601.85" y="844.65" width="12.2" height="12.1" fill="none" stroke="#4a6c9b" stroke-width="3.6"/><path d="M602 828.90 V834.50 M614 828.90 V834.50 M602 866.60 V872.00 M614 866.60 V872.00 M585.9 844.80 H591.9 M585.9 854.80 H591.9 M624.1 844.80 H630.1 M624.1 854.80 H630.1" fill="none" stroke="#4a6c9b" stroke-width="3.6" stroke-linecap="round" stroke-linejoin="round"/></svg><div class="ell" style="left:663.6px;top:807px;width:153.6px;height:88px;line-height:86px;font-size:29.26px;transform:scaleX(0.9569);color:#4a6c9b">Asia Pacific region</div><div class="clip" style="left:889.5px;top:807px;width:286.9px;height:88px;line-height:86px;font-size:29.26px;transform:scaleX(0.9569);color:#2d2d2d">Transporter (Amazon EC2)</div><div class="clip" style="left:1203.5px;top:807px;width:155.2px;height:88px;line-height:86px;font-size:29.26px;transform:scaleX(0.9569);color:#2d2d2d">10.0.37.138</div><div class="clip" style="left:1391.5px;top:807px;width:90.4px;height:88px;line-height:86px;font-size:29.26px;transform:scaleX(0.9569);color:#2d2d2d">9446</div><div class="clip" style="left:1517.5px;top:807px;width:90.4px;height:88px;line-height:86px;font-size:29.26px;transform:scaleX(0.9569);color:#2d2d2d">6</div><div class="clip" style="left:1643.5px;top:807px;width:155.2px;height:88px;line-height:86px;font-size:29.26px;transform:scaleX(0.9569);color:#2d2d2d">0</div><div class="clip" style="left:1831.5px;top:807px;width:153.1px;height:88px;line-height:86px;font-size:29.26px;transform:scaleX(0.9569);color:#2d2d2d">10.8.0.e6958</div><div class="pill" style="left:2018px;top:835px;width:79px;background:#5cc66e"><span>Good</span></div><div class="r" style="left:536px;top:895px;width:1911px;height:88px;background:#f9fafe"></div><svg class="ic" style="left:578px;top:905px" width="70" height="70" viewBox="578 905 70 70" ><rect x="591.9" y="922.50" width="32.2" height="32.1" rx="4" fill="none" stroke="#4a6c9b" stroke-width="3.6" stroke-linecap="round" stroke-linejoin="round"/><rect x="601.85" y="932.65" width="12.2" height="12.1" fill="none" stroke="#4a6c9b" stroke-width="3.6"/><path d="M602 916.90 V922.50 M614 916.90 V922.50 M602 954.60 V960.00 M614 954.60 V960.00 M585.9 932.80 H591.9 M585.9 942.80 H591.9 M624.1 932.80 H630.1 M624.1 942.80 H630.1" fill="none" stroke="#4a6c9b" stroke-width="3.6" stroke-linecap="round" stroke-linejoin="round"/></svg><div class="ell" style="left:663.6px;top:895px;width:153.6px;height:88px;line-height:86px;font-size:29.26px;transform:scaleX(0.9569);color:#4a6c9b">10.30.23.101</div><div class="clip" style="left:889.5px;top:895px;width:286.9px;height:88px;line-height:86px;font-size:29.26px;transform:scaleX(0.9569);color:#2d2d2d">Transporter (Nutanix AHV)</div><div class="clip" style="left:1203.5px;top:895px;width:155.2px;height:88px;line-height:86px;font-size:29.26px;transform:scaleX(0.9569);color:#2d2d2d">10.30.24.29</div><div class="clip" style="left:1391.5px;top:895px;width:90.4px;height:88px;line-height:86px;font-size:29.26px;transform:scaleX(0.9569);color:#2d2d2d">9446</div><div class="clip" style="left:1517.5px;top:895px;width:90.4px;height:88px;line-height:86px;font-size:29.26px;transform:scaleX(0.9569);color:#2d2d2d">6</div><div class="clip" style="left:1643.5px;top:895px;width:155.2px;height:88px;line-height:86px;font-size:29.26px;transform:scaleX(0.9569);color:#2d2d2d">0</div><div class="clip" style="left:1831.5px;top:895px;width:153.1px;height:88px;line-height:86px;font-size:29.26px;transform:scaleX(0.9569);color:#2d2d2d">10.8.0.r6957</div><div class="pill" style="left:2018px;top:923px;width:79px;background:#5cc66e"><span>Good</span></div><div class="r" style="left:536px;top:1179px;width:1912px;height:2px;background:#c4cfdc"></div><div class="t" style="left:576px;top:1233.00px;font-size:29.26px;line-height:29.26px;color:#2d2d2d;font-weight:400;transform:scaleX(0.9569);">Page</div><div class="r" style="left:652px;top:1213px;width:278px;height:70px;border:2px solid #c3d0e2;border-radius:14px;background:#f3f4f8"></div><svg class="ic" style="left:670px;top:1226px" width="250" height="50" viewBox="670 1226 250 50" ><path d="M696.7 1236 L681.4 1250.1 L696.7 1264.3 M889.5 1236 L904.6 1250.1 L889.5 1264.3" fill="none" stroke="#c3cfdc" stroke-width="2.6" stroke-linecap="round" stroke-linejoin="round"/></svg><div class="t" style="left:782.6px;top:1236.00px;font-size:28.00px;line-height:28.00px;color:#a3b6cc;font-weight:400;transform:scaleX(1.0000);font-family:"Liberation Mono",monospace;">1</div><div class="t" style="left:946.5px;top:1233.00px;font-size:29.26px;line-height:29.26px;color:#2d2d2d;font-weight:400;transform:scaleX(0.9569);">of 1</div><div class="t" style="left:1989.7px;top:1233.00px;font-size:29.26px;line-height:29.26px;color:#2d2d2d;font-weight:400;transform:scaleX(0.9569);">6/6 items displayed per page</div><svg class="ic" style="left:2366px;top:1226px" width="46" height="46" viewBox="2366 1226 46 46" ><path d="M2376.4 1233.5 V1245.5 M2376.4 1251.2 V1263 M2372.6 1251.2 H2380.2 M2388 1233.5 V1241 M2388 1247.8 V1263 M2384.2 1241 H2391.8 M2399.7 1233.5 V1248.3 M2399.7 1254.6 V1263 M2395.9 1254.6 H2403.5" fill="none" stroke="#4a6c9b" stroke-width="2.8" stroke-linecap="round"/></svg></body></html>
